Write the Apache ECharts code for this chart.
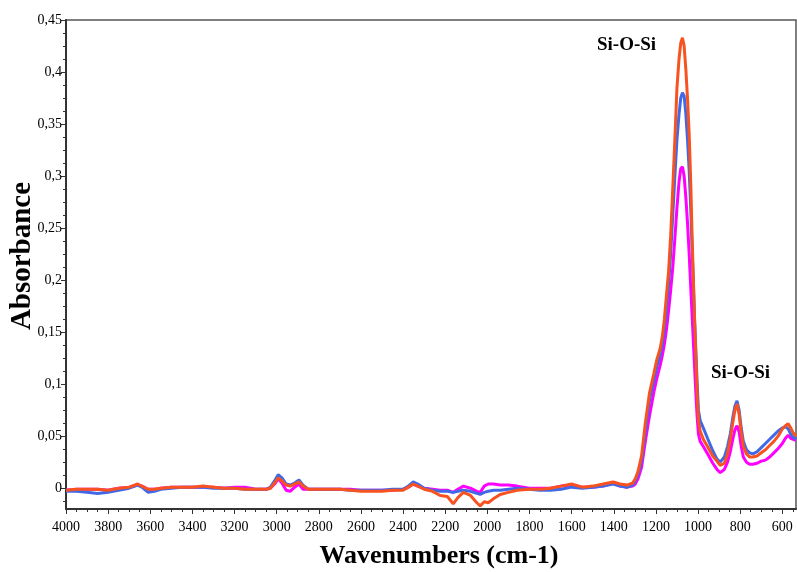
<!DOCTYPE html>
<html>
<head>
<meta charset="utf-8">
<script src="https://cdn.jsdelivr.net/npm/echarts@6/dist/echarts.min.js"></script>
<style>
html,body{margin:0;padding:0;background:#fff;}
#chart{width:797px;height:572px;}
</style>
</head>
<body>
<div id="chart"></div>
<script>
// Wavenumbers (cm-1)
const wavenumbers = [4000,3950,3900,3850,3800,3750,3700,3660,3640,3610,3580,3550,3500,3450,3400,3350,3300,3250,3200,3150,3100,3050,3030,3010,2993,2975,2955,2936,2915,2894,2875,2850,2800,2750,2700,2650,2600,2550,2500,2450,2400,2375,2352,2330,2300,2260,2224,2190,2162,2140,2114,2080,2050,2034,2015,1996,1970,1939,1900,1859,1800,1750,1700,1650,1600,1550,1500,1450,1403,1370,1336,1310,1298,1285,1268,1250,1230,1210,1195,1180,1170,1160,1150,1140,1130,1120,1110,1100,1090,1082,1074,1066,1058,1050,1042,1034,1028,1022,1016,1010,1004,998,990,975,955,930,910,895,887,875,860,847,835,825,815,805,795,785,770,755,740,720,700,680,660,640,620,600,585,572,560,548,535];

// Absorbance – orange series
const orangeVals = [-0.002,-0.001,-0.001,-0.001,-0.002,0.000,0.001,0.004,0.002,-0.001,-0.001,0.000,0.001,0.001,0.001,0.002,0.001,0.000,0.000,-0.001,-0.001,-0.001,0.000,0.005,0.010,0.007,0.003,0.002,0.004,0.006,0.002,-0.001,-0.001,-0.001,-0.001,-0.002,-0.003,-0.003,-0.003,-0.002,-0.002,0.001,0.004,0.002,-0.001,-0.003,-0.007,-0.008,-0.015,-0.009,-0.004,-0.007,-0.014,-0.017,-0.013,-0.014,-0.010,-0.006,-0.004,-0.002,-0.001,-0.001,0.000,0.002,0.004,0.001,0.002,0.004,0.006,0.004,0.003,0.005,0.009,0.016,0.031,0.063,0.092,0.110,0.124,0.134,0.145,0.162,0.185,0.208,0.242,0.288,0.335,0.385,0.413,0.428,0.433,0.425,0.403,0.375,0.340,0.290,0.240,0.200,0.160,0.125,0.090,0.065,0.055,0.047,0.040,0.031,0.026,0.022,0.021,0.024,0.033,0.047,0.063,0.075,0.081,0.071,0.053,0.040,0.033,0.030,0.030,0.031,0.034,0.037,0.041,0.045,0.050,0.057,0.060,0.062,0.058,0.053,0.050];

// Absorbance – blue series
const blueVals = [-0.003,-0.003,-0.004,-0.005,-0.004,-0.002,0.000,0.003,0.001,-0.004,-0.003,-0.001,0.000,0.001,0.001,0.001,0.000,0.000,0.000,-0.001,-0.001,-0.001,0.001,0.007,0.013,0.010,0.004,0.003,0.005,0.008,0.003,-0.001,-0.001,-0.001,-0.001,-0.002,-0.002,-0.002,-0.002,-0.001,-0.001,0.002,0.006,0.004,0.000,-0.002,-0.003,-0.003,-0.004,-0.003,-0.002,-0.003,-0.005,-0.006,-0.004,-0.003,-0.002,-0.002,-0.001,0.000,-0.001,-0.002,-0.002,-0.001,0.001,0.000,0.001,0.002,0.004,0.002,0.001,0.003,0.007,0.013,0.026,0.055,0.085,0.103,0.117,0.128,0.138,0.152,0.172,0.195,0.225,0.262,0.300,0.335,0.360,0.375,0.380,0.377,0.360,0.335,0.305,0.265,0.230,0.195,0.160,0.130,0.100,0.075,0.065,0.058,0.048,0.036,0.028,0.025,0.025,0.030,0.040,0.052,0.068,0.079,0.084,0.075,0.058,0.045,0.037,0.034,0.033,0.035,0.039,0.043,0.047,0.051,0.055,0.058,0.059,0.057,0.052,0.049,0.047];

// Absorbance – magenta series
const magentaVals = [-0.002,-0.001,-0.001,-0.001,-0.002,0.000,0.001,0.003,0.002,-0.001,-0.001,0.000,0.001,0.001,0.001,0.001,0.001,0.000,0.001,0.001,-0.001,-0.001,0.000,0.004,0.009,0.005,-0.002,-0.003,0.001,0.004,-0.001,-0.001,-0.001,-0.001,-0.001,-0.001,-0.002,-0.002,-0.002,-0.002,-0.001,0.001,0.004,0.002,0.000,-0.001,-0.002,-0.002,-0.004,-0.001,0.002,0.000,-0.003,-0.004,0.002,0.004,0.004,0.003,0.003,0.002,0.000,0.000,0.000,0.002,0.003,0.001,0.001,0.002,0.005,0.002,0.001,0.002,0.004,0.009,0.020,0.045,0.070,0.092,0.106,0.118,0.127,0.138,0.152,0.170,0.190,0.212,0.240,0.270,0.295,0.307,0.309,0.300,0.280,0.255,0.225,0.190,0.165,0.140,0.115,0.090,0.068,0.052,0.045,0.040,0.033,0.024,0.018,0.015,0.015,0.018,0.025,0.035,0.047,0.056,0.060,0.054,0.040,0.030,0.025,0.023,0.023,0.024,0.026,0.027,0.030,0.034,0.038,0.043,0.048,0.051,0.048,0.047,0.046];

// Tick labels
const xTicks = [4000,3800,3600,3400,3200,3000,2800,2600,2400,2200,2000,1800,1600,1400,1200,1000,800,600];
const yTicks = [0,0.05,0.1,0.15,0.2,0.25,0.3,0.35,0.4,0.45];

const xMinor = [];
for (let v = 4000; v >= 550; v -= 50) xMinor.push(v);
const yMinor = [];
for (let k = -1; k <= 36; k++) yMinor.push(+(k * 0.0125).toFixed(4));

const pair = vals => wavenumbers.map((w, i) => [w, vals[i]]);
const fmtY = v => String(+(+v).toFixed(3)).replace('.', ',');
const fmtX = v => String(Math.round(+v));

const chart = echarts.init(document.getElementById('chart'));
const labelFont = { color: '#000', fontFamily: 'Liberation Serif', fontSize: 14 };

chart.setOption({
  animation: false,
  backgroundColor: '#fff',
  grid: { left: 66, right: 1, top: 20, bottom: 63, show: true, borderColor: '#555', borderWidth: 1.5, containLabel: false, outerBoundsMode: 'none' },
  xAxis: [
    {
      type: 'value', inverse: true, min: 535, max: 4000, position: 'bottom',
      name: 'Wavenumbers (cm-1)', nameLocation: 'middle', nameGap: 34, nameMoveOverlap: false,
      nameTextStyle: { fontFamily: 'Liberation Serif', fontWeight: 'bold', fontSize: 26, color: '#000', padding: [0, 0, 0, 16] },
      axisLine: { show: true, onZero: false, lineStyle: { color: '#333', width: 2 } },
      axisTick: { show: true, customValues: xTicks, length: 5, lineStyle: { color: '#333', width: 1 } },
      axisLabel: Object.assign({ customValues: xTicks, margin: 11, formatter: fmtX, hideOverlap: false }, labelFont),
      splitLine: { show: false }
    },
    {
      type: 'value', inverse: true, min: 535, max: 4000, position: 'bottom',
      axisLine: { show: false, onZero: false },
      axisTick: { show: true, customValues: xMinor, length: 3, lineStyle: { color: '#333', width: 1 } },
      axisLabel: { show: false },
      splitLine: { show: false }
    }
  ],
  yAxis: [
    {
      type: 'value', min: -0.02, max: 0.45, position: 'left',
      name: 'Absorbance', nameLocation: 'middle', nameGap: 29, nameRotate: 90, nameMoveOverlap: false,
      nameTextStyle: { fontFamily: 'Liberation Serif', fontWeight: 'bold', fontSize: 29, color: '#000', padding: [0, 0, 0, 17] },
      axisLine: { show: true, onZero: false, lineStyle: { color: '#333', width: 2 } },
      axisTick: { show: true, customValues: yTicks, length: 5, lineStyle: { color: '#333', width: 1 } },
      axisLabel: Object.assign({ customValues: yTicks, margin: 4, formatter: fmtY }, labelFont),
      splitLine: { show: false }
    },
    {
      type: 'value', min: -0.02, max: 0.45, position: 'left',
      axisLine: { show: false, onZero: false },
      axisTick: { show: true, customValues: yMinor, length: 3, lineStyle: { color: '#333', width: 1 } },
      axisLabel: { show: false },
      splitLine: { show: false }
    }
  ],
  series: [
    { name: 'Sample 3', type: 'line', xAxisIndex: 0, yAxisIndex: 0, showSymbol: false, data: pair(magentaVals), lineStyle: { color: '#FF00FF', width: 3 }, itemStyle: { color: '#FF00FF' } },
    { name: 'Sample 2', type: 'line', xAxisIndex: 0, yAxisIndex: 0, showSymbol: false, data: pair(blueVals), lineStyle: { color: '#4169E6', width: 3 }, itemStyle: { color: '#4169E6' } },
    { name: 'Sample 1', type: 'line', xAxisIndex: 0, yAxisIndex: 0, showSymbol: false, data: pair(orangeVals), lineStyle: { color: '#F85220', width: 3 }, itemStyle: { color: '#F85220' } }
  ],
  graphic: [
    { type: 'text', left: 597, top: 36, style: { text: 'Si-O-Si', font: 'bold 19px "Liberation Serif"', fill: '#000' } },
    { type: 'text', left: 711, top: 364, style: { text: 'Si-O-Si', font: 'bold 19px "Liberation Serif"', fill: '#000' } }
  ]
});
</script>
</body>
</html>
